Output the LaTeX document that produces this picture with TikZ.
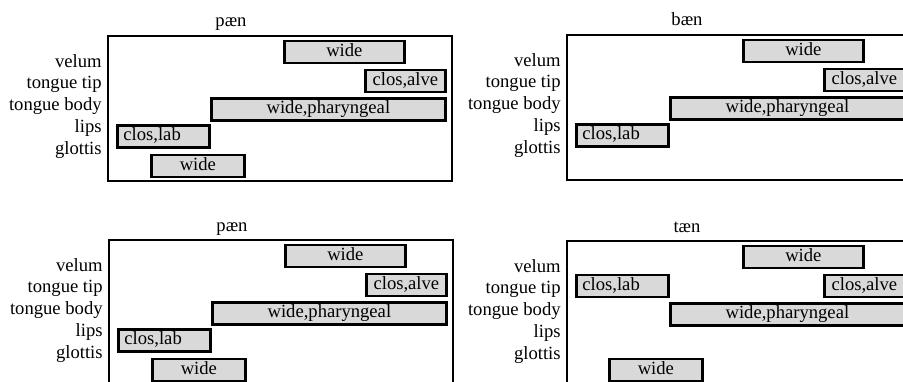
\documentclass[tikz,border=0pt]{standalone}
\usepackage{fontspec}
\setmainfont{Liberation Serif}

\begin{document}
\begin{tikzpicture}[x=0.02cm, y=-0.02cm]
\tikzstyle{every node}=[font=\fontsize{10.6}{12}\selectfont]
\tikzstyle{frame}=[draw, line width=1.1pt]
\tikzstyle{bar}=[draw, line width=1.6pt, fill=black!15, minimum height=0.44cm, inner sep=0pt, text height=1ex, text depth=0pt, anchor=west]
\tikzstyle{artic}=[anchor=base east, inner sep=0pt]
\tikzstyle{word}=[anchor=base, inner sep=0pt]
\useasboundingbox (0,0) rectangle (903,382);

% top left
\begin{scope}[shift={(108,36)}]
\node[word] (pA-title) at (123,-9) {pæn};
\draw[frame] (0,0) rectangle (344,145);
\node[artic] (pA-velum) at (-6,31) {velum};
\node[artic] (pA-tip) at (-6,52) {tongue tip};
\node[artic] (pA-body) at (-6,74) {tongue body};
\node[artic] (pA-lips) at (-6,96) {lips};
\node[artic] (pA-glottis) at (-6,118) {glottis};
\node[bar, minimum width=2.4cm] (pA-vel) at (175,16) {wide};
\node[bar, minimum width=1.6cm] (pA-alve) at (256,45) {clos,alve};
\node[bar, minimum width=4.68cm] (pA-phar) at (102,73.5) {wide,pharyngeal};
\node[bar, minimum width=1.84cm, text width=1.6cm, align=left, inner xsep=0.12cm] (pA-lab) at (8,100.5) {clos,lab};
\node[bar, minimum width=1.86cm] (pA-glot) at (42,130) {wide};
\end{scope}

% top right
\begin{scope}[shift={(567,35)}]
\node[word] (pB-title) at (120,-9) {bæn};
\draw[frame] (0,0) rectangle (344,145);
\node[artic] (pB-velum) at (-6,31) {velum};
\node[artic] (pB-tip) at (-6,52) {tongue tip};
\node[artic] (pB-body) at (-6,74) {tongue body};
\node[artic] (pB-lips) at (-6,96) {lips};
\node[artic] (pB-glottis) at (-6,118) {glottis};
\node[bar, minimum width=2.4cm] (pB-vel) at (175,16) {wide};
\node[bar, minimum width=1.6cm] (pB-alve) at (256,45) {clos,alve};
\node[bar, minimum width=4.68cm] (pB-phar) at (102,73.5) {wide,pharyngeal};
\node[bar, minimum width=1.84cm, text width=1.6cm, align=left, inner xsep=0.12cm] (pB-lab) at (8,100.5) {clos,lab};
\end{scope}

% bottom left
\begin{scope}[shift={(109,240)}]
\node[word] (pC-title) at (123,-9) {pæn};
\draw[frame] (0,0) rectangle (344,145);
\node[artic] (pC-velum) at (-6,31) {velum};
\node[artic] (pC-tip) at (-6,52) {tongue tip};
\node[artic] (pC-body) at (-6,74) {tongue body};
\node[artic] (pC-lips) at (-6,96) {lips};
\node[artic] (pC-glottis) at (-6,118) {glottis};
\node[bar, minimum width=2.4cm] (pC-vel) at (175,16) {wide};
\node[bar, minimum width=1.6cm] (pC-alve) at (256,45) {clos,alve};
\node[bar, minimum width=4.68cm] (pC-phar) at (102,73.5) {wide,pharyngeal};
\node[bar, minimum width=1.84cm, text width=1.6cm, align=left, inner xsep=0.12cm] (pC-lab) at (8,100.5) {clos,lab};
\node[bar, minimum width=1.86cm] (pC-glot) at (42,130) {wide};
\end{scope}

% bottom right
\begin{scope}[shift={(567,241)}]
\node[word] (pD-title) at (120,-9) {tæn};
\draw[frame] (0,0) rectangle (344,145);
\node[artic] (pD-velum) at (-6,31) {velum};
\node[artic] (pD-tip) at (-6,52) {tongue tip};
\node[artic] (pD-body) at (-6,74) {tongue body};
\node[artic] (pD-lips) at (-6,96) {lips};
\node[artic] (pD-glottis) at (-6,118) {glottis};
\node[bar, minimum width=2.4cm] (pD-vel) at (175,16) {wide};
\node[bar, minimum width=1.84cm, text width=1.6cm, align=left, inner xsep=0.12cm] (pD-lab) at (8,45) {clos,lab};
\node[bar, minimum width=1.6cm] (pD-alve) at (256,45) {clos,alve};
\node[bar, minimum width=4.68cm] (pD-phar) at (102,73.5) {wide,pharyngeal};
\node[bar, minimum width=1.86cm] (pD-glot) at (41,129) {wide};
\end{scope}
\end{tikzpicture}
\end{document}
